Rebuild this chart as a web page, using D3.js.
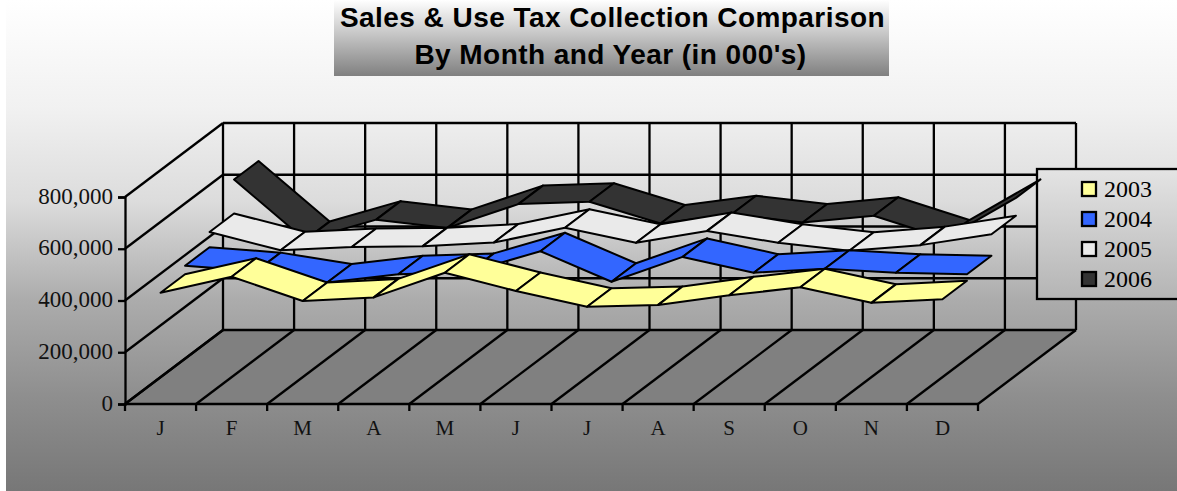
<!DOCTYPE html>
<html>
<head>
<meta charset="utf-8">
<script src="https://cdn.jsdelivr.net/npm/d3@7"></script>
<style>
  html, body { margin: 0; padding: 0; background: #fff; overflow: hidden; }
  text { font-family: "Liberation Serif", serif; fill: #111; }
</style>
</head>
<body>
<div id="chart"></div>
<script>
var svgWidth = 1177;
var svgHeight = 491;

var months = ['J', 'F', 'M', 'A', 'M', 'J', 'J', 'A', 'S', 'O', 'N', 'D'];
var yTicks = [0, 200000, 400000, 600000, 800000];
var years = ['2003', '2004', '2005', '2006'];
var colors = ['#ffff99', '#3366ff', '#eaeaea', '#333333'];
var titleLines = ['Sales & Use Tax Collection Comparison', "By Month and Year (in 000's)"];

var values2003 = [430000, 492000, 398000, 412000, 507000, 437000, 376000, 383000, 420000, 451000, 391000, 405000];
var values2004 = [463000, 442000, 398000, 430000, 439000, 519000, 401000, 497000, 436000, 451000, 436000, 430000];
var values2005 = [522000, 451000, 464000, 467000, 481000, 538000, 480000, 526000, 480000, 449000, 471000, 513000];
var values2006 = [653000, 419000, 498000, 466000, 558000, 567000, 483000, 519000, 487000, 513000, 425000, 582000];
var allValues = [values2003, values2004, values2005, values2006];

var svg = d3.select('#chart').append('svg')
    .attr('width', svgWidth)
    .attr('height', svgHeight)
    .style('display', 'block');

var defs = svg.append('defs');

function addGradient(id, stops) {
    var g = defs.append('linearGradient')
        .attr('id', id)
        .attr('x1', 0).attr('y1', 0)
        .attr('x2', 0).attr('y2', 1);
    stops.forEach(function(s) {
        g.append('stop').attr('offset', s[0]).attr('stop-color', s[1]);
    });
}
addGradient('bgFill', [[0, '#ffffff'], [0.22, '#f1f1f1'], [0.41, '#dcdcdc'], [0.61, '#acacac'], [0.81, '#8e8e8e'], [1, '#777777']]);
addGradient('titleFill', [[0, '#ffffff'], [1, '#808080']]);
addGradient('legendFill', [[0, '#e4e4e4'], [1, '#b4b4b4']]);

// background and title box
svg.append('rect')
    .attr('x', 6).attr('y', 0)
    .attr('width', svgWidth - 6).attr('height', svgHeight)
    .attr('fill', 'url(#bgFill)');

svg.append('rect')
    .attr('x', 334).attr('y', 0)
    .attr('width', 555).attr('height', 76)
    .attr('fill', 'url(#titleFill)');

svg.selectAll('.titleLine')
    .data(titleLines)
    .enter()
    .append('text')
    .classed('titleLine', true)
    .attr('x', (d, i) => 612.5 - i * 2)
    .attr('y', (d, i) => 26.5 + i * 37)
    .attr('text-anchor', 'middle')
    .style('font-family', '"Liberation Sans", sans-serif')
    .style('font-weight', 'bold')
    .style('font-size', '28px')
    .style('letter-spacing', '0.45px')
    .style('fill', '#000')
    .text(d => d);

// scales: the floor is sheared by depth, 0 = front and 1 = back
var xScale = d3.scaleBand().domain(d3.range(months.length)).range([125, 978]);
var yScale = d3.scaleLinear().domain([0, 800000]).range([404, 197]);
var depthX = d3.scaleLinear().domain([0, 1]).range([0, 98]);
var depthY = d3.scaleLinear().domain([0, 1]).range([0, -74]);

var xLeft = xScale.range()[0];
var xRight = xScale.range()[1];
var step = xScale.step();
var yBase = yScale(0);
var yMax = yScale(yTicks[yTicks.length - 1]);
var dx = depthX(1);
var dy = depthY(1);
var lineWidth = 2.3;

var edges = d3.range(months.length + 1).map(i => xLeft + i * step);

var walls = svg.append('g')
    .attr('fill', 'none')
    .attr('stroke', '#000');

// floor
walls.append('polygon')
    .attr('points', [[xLeft, yBase], [xRight, yBase], [xRight + dx, yBase + dy], [xLeft + dx, yBase + dy]].join(' '))
    .attr('fill', '#808080')
    .attr('stroke', 'none');

walls.selectAll('.floorLine')
    .data(edges)
    .enter()
    .append('line')
    .classed('floorLine', true)
    .attr('x1', d => d).attr('y1', yBase)
    .attr('x2', d => d + dx).attr('y2', yBase + dy)
    .attr('stroke-width', lineWidth);

// back wall verticals
walls.selectAll('.backV')
    .data(edges)
    .enter()
    .append('line')
    .classed('backV', true)
    .attr('x1', d => d + dx).attr('y1', yBase + dy)
    .attr('x2', d => d + dx).attr('y2', yMax + dy)
    .attr('stroke-width', lineWidth);

// back wall horizontals and side wall diagonals
walls.selectAll('.backH')
    .data(yTicks)
    .enter()
    .append('line')
    .classed('backH', true)
    .attr('x1', xLeft + dx).attr('y1', d => yScale(d) + dy)
    .attr('x2', xRight + dx).attr('y2', d => yScale(d) + dy)
    .attr('stroke-width', lineWidth);

walls.selectAll('.sideLine')
    .data(yTicks)
    .enter()
    .append('line')
    .classed('sideLine', true)
    .attr('x1', xLeft).attr('y1', d => yScale(d))
    .attr('x2', xLeft + dx).attr('y2', d => yScale(d) + dy)
    .attr('stroke-width', lineWidth);

// y axis
var leftAxis = d3.axisLeft(yScale)
    .tickValues(yTicks)
    .tickFormat(d3.format(','))
    .tickSize(7)
    .tickPadding(5);

var yAxis = svg.append('g')
    .attr('transform', `translate(${xLeft}, 0)`)
    .call(leftAxis);
yAxis.select('.domain').attr('stroke', '#000').attr('stroke-width', lineWidth);
yAxis.selectAll('line').attr('stroke', '#000').attr('stroke-width', lineWidth);
yAxis.selectAll('text')
    .attr('dy', '0.27em')
    .style('font-size', '23px')
    .style('font-family', '"Liberation Serif", serif')
    .attr('fill', '#111');

// x axis: labels sit between the ticks
svg.append('line')
    .attr('x1', xLeft).attr('y1', yBase)
    .attr('x2', xRight).attr('y2', yBase)
    .attr('stroke', '#000')
    .attr('stroke-width', lineWidth);

svg.selectAll('.xTick')
    .data(edges)
    .enter()
    .append('line')
    .classed('xTick', true)
    .attr('x1', d => d).attr('y1', yBase)
    .attr('x2', d => d).attr('y2', yBase + 7)
    .attr('stroke', '#000')
    .attr('stroke-width', lineWidth);

var bottomAxis = d3.axisBottom(xScale)
    .tickFormat(i => months[i])
    .tickSize(0)
    .tickPadding(16);

var xAxis = svg.append('g')
    .attr('transform', `translate(0, ${yBase})`)
    .call(bottomAxis);
xAxis.select('.domain').remove();
xAxis.selectAll('text')
    .style('font-size', '21px')
    .style('font-family', '"Liberation Serif", serif')
    .attr('fill', '#111');

// legend sits under the ribbons, the last one pokes over its border
var legend = svg.append('g');

legend.append('rect')
    .attr('x', 1037).attr('y', 169)
    .attr('width', 160).attr('height', 130)
    .attr('fill', 'url(#legendFill)')
    .attr('stroke', '#000')
    .attr('stroke-width', lineWidth);

var legendItems = legend.selectAll('.legendItem')
    .data(years)
    .enter()
    .append('g')
    .classed('legendItem', true)
    .attr('transform', (d, i) => `translate(0, ${i * 30})`);

legendItems.append('rect')
    .attr('x', 1082).attr('y', 182)
    .attr('width', 14).attr('height', 14)
    .attr('fill', (d, i) => colors[i])
    .attr('stroke', '#000')
    .attr('stroke-width', lineWidth);

legendItems.append('text')
    .attr('x', 1104)
    .attr('y', 197)
    .style('font-size', '24px')
    .style('fill', '#000')
    .text(d => d);

// ribbons, back series first; each segment is its own quad
function cornerPoint(seriesIndex, monthIndex, depth) {
    var cx = xScale(monthIndex) + step / 2;
    var cy = yScale(allValues[seriesIndex][monthIndex]);
    return [cx + depthX(depth), cy + depthY(depth)];
}

d3.range(years.length).reverse().forEach(function(s) {
    var front = s / years.length;
    var back = (s + 1) / years.length;

    svg.append('g')
        .selectAll('polygon')
        .data(d3.range(months.length - 1))
        .enter()
        .append('polygon')
        .attr('points', m => [
            cornerPoint(s, m, front),
            cornerPoint(s, m, back),
            cornerPoint(s, m + 1, back),
            cornerPoint(s, m + 1, front)
        ].join(' '))
        .attr('fill', colors[s])
        .attr('stroke', '#000')
        .attr('stroke-width', 2)
        .attr('stroke-linejoin', 'round');
});
</script>
</body>
</html>
